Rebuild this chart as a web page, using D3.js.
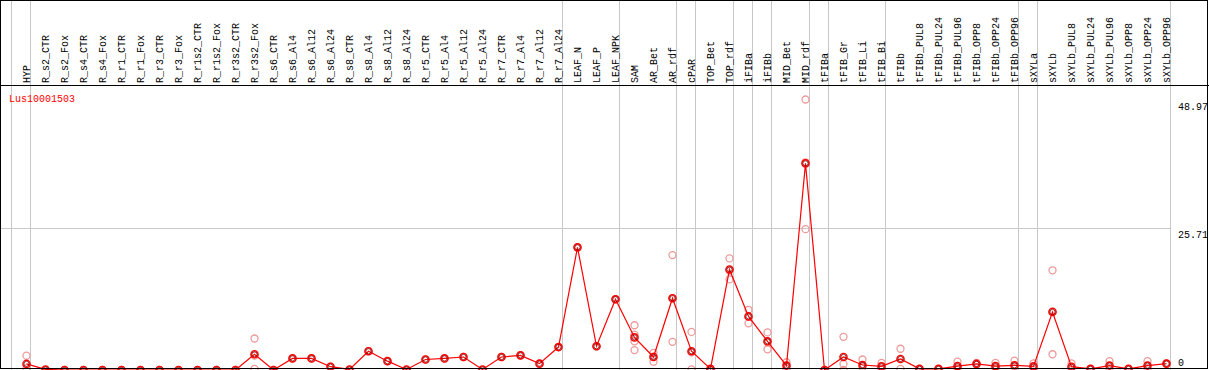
<!DOCTYPE html>
<html>
<head>
  <meta charset="utf-8">
  <title>Lus10001503</title>
  <script src="https://d3js.org/d3.v7.min.js"></script>
  <style>
    body { margin: 0; background: #fff; }
    svg text { font-family: "Liberation Mono", "DejaVu Sans Mono", monospace; font-size: 10px; }
    .grid { stroke: #c8c8c8; stroke-width: 1; shape-rendering: crispEdges; }
    .frame { fill: none; stroke: #000; stroke-width: 1; shape-rendering: crispEdges; }
  </style>
</head>
<body>
<div id="chart"></div>
<script>

// sample names, left to right
let categories = ["HYP",
  "R_s2_CTR","R_s2_Fox","R_s4_CTR","R_s4_Fox","R_r1_CTR","R_r1_Fox","R_r3_CTR","R_r3_Fox",
  "R_r1s2_CTR","R_r1s2_Fox","R_r3s2_CTR","R_r3s2_Fox","R_s6_CTR","R_s6_Al4","R_s6_Al12","R_s6_Al24",
  "R_s8_CTR","R_s8_Al4","R_s8_Al12","R_s8_Al24","R_r5_CTR","R_r5_Al4","R_r5_Al12","R_r5_Al24",
  "R_r7_CTR","R_r7_Al4","R_r7_Al12","R_r7_Al24",
  "LEAF_N","LEAF_P","LEAF_NPK","SAM","AR_Bet","AR_rdf","cPAR","TOP_Bet","TOP_rdf",
  "iFIBa","iFIBb","MID_Bet","MID_rdf","tFIBa","tFIB_Gr","tFIB_Li","tFIB_Bi","tFIBb",
  "tFIBb_PUL8","tFIBb_PUL24","tFIBb_PUL96","tFIBb_OPP8","tFIBb_OPP24","tFIBb_OPP96",
  "sXYLa","sXYLb","sXYLb_PUL8","sXYLb_PUL24","sXYLb_PUL96","sXYLb_OPP8","sXYLb_OPP24","sXYLb_OPP96"];

// first sample of each tissue group (a grey line is drawn before it)
let groupStarts = ["HYP","R_s2_CTR","LEAF_N","SAM","cPAR","TOP_Bet","iFIBa","iFIBb",
  "MID_Bet","tFIBa","tFIB_Gr","tFIBb","sXYLa","sXYLb"];

// mean expression (red line)
let means = [1.1,
  0.1,0,0,0,0,0,0,0,
  0,0,0,2.85,0,2.1,2.1,0.6,
  0.1,3.4,1.6,0.1,1.9,2.1,2.35,0.1,
  2.35,2.65,1.15,4.15,
  22.2,4.3,12.8,5.9,2.35,13.0,3.4,0.2,18.2,
  9.7,5.2,0.8,37.4,0,2.35,0.9,0.65,2.0,
  0.2,0.2,0.7,1.1,0.7,0.85,
  0.65,10.5,0.6,0.2,0.8,0.2,0.8,1.15];

// individual replicates (pale circles)
let replicates = [[2.6,0.3],
  [0],[0],[0],[0],[0],[0],[0],[0],
  [0],[0],[0],[5.7,2.6,0.2],[0],[2.1],[2.1],[0.6],
  [0],[3.4],[1.6],[0],[1.9],[2.1],[2.35],[0],
  [2.35],[2.65],[1.15],[4.15],
  [22.2],[4.3],[12.8],[8.1,6.4,5.2,3.6],[3.1,2.4,1.5],[20.8,13.0,5.1],[6.9,3.2,0.1],[0.2],[20.2,18.0,16.4],
  [10.9,9.7,8.45],[6.8,5.0,3.75],[1.4,0.8,0.2],[48.97,37.6,25.5],[0],[6.0,0,1.1],[1.9,0.5],[1.3,0.2],[3.85,0.2],
  [0.2],[0.2],[1.5,0.3],[1.3,1.0],[1.3,0.4],[1.7,0.6],
  [1.2,0.4],[18.05,10.6,2.85],[1.2,0.3],[0.2],[1.6,0.3],[0.2],[1.6,0.3],[1.2,1.1]];

let yTicks = [0, 25.71, 48.97];
let geneName = "Lus10001503";

let width = 1209,
    height = 370;

let x = d3.scaleBand()
    .domain(categories)
    .range([11, 11 + categories.length * 19])
    .padding(0);

let px = function(c) { return x(c) + 15.5; };

let y = d3.scaleLinear()
    .domain([0, 48.97])
    .range([370, 99.5]);

let svg = d3.select("#chart").append("svg")
    .attr("width", width)
    .attr("height", height);

// group separators
svg.append("g")
  .selectAll("line")
    .data(groupStarts.map(function(c) { return x(c); }).concat([x.range()[1]]))
  .enter().append("line")
    .attr("class", "grid")
    .attr("x1", function(d) { return Math.round(d) + 0.5; })
    .attr("x2", function(d) { return Math.round(d) + 0.5; })
    .attr("y1", 0)
    .attr("y2", height);

// middle horizontal line
svg.append("line")
    .attr("class", "grid")
    .attr("x1", 0)
    .attr("x2", x.range()[1])
    .attr("y1", Math.round(y(yTicks[1])) + 0.5)
    .attr("y2", Math.round(y(yTicks[1])) + 0.5);

// sample labels, rotated
svg.append("g")
  .selectAll("text")
    .data(categories)
  .enter().append("text")
    .attr("transform", function(d) { return "translate(" + (px(d) + 3) + ",83) rotate(-90)"; })
    .attr("text-anchor", "start")
    .text(function(d) { return d; });

// header separator
svg.append("line")
    .attr("class", "frame")
    .attr("x1", 0).attr("x2", width)
    .attr("y1", 85.5).attr("y2", 85.5);

// y labels
svg.append("g")
  .selectAll("text")
    .data(yTicks)
  .enter().append("text")
    .attr("x", 1178)
    .attr("y", function(d) { return Math.min(y(d) + 10, 366); })
    .text(function(d) { return d; });

svg.append("text")
    .attr("x", 9)
    .attr("y", 102)
    .attr("fill", "red")
    .text(geneName);

let plot = svg.append("g");

// replicate circles
categories.forEach(function(c, i) {
  plot.selectAll(null)
      .data(replicates[i])
    .enter().append("circle")
      .attr("cx", px(c))
      .attr("cy", function(d) { return y(d); })
      .attr("r", 3.5)
      .attr("fill", "none")
      .attr("stroke", "#ee9a9a")
      .attr("stroke-width", 1.3);
});

let line = d3.line()
    .x(function(d, i) { return px(categories[i]); })
    .y(function(d) { return y(d); });

plot.append("path")
    .datum(means)
    .attr("fill", "none")
    .attr("stroke", "red")
    .attr("stroke-width", 1.2)
    .attr("d", line);

plot.selectAll(".mean")
    .data(means)
  .enter().append("circle")
    .attr("class", "mean")
    .attr("cx", function(d, i) { return px(categories[i]); })
    .attr("cy", function(d) { return y(d); })
    .attr("r", 3.6)
    .attr("fill", "none")
    .attr("stroke", "red")
    .attr("stroke-width", 1.4);

plot.selectAll(".meanIn")
    .data(means)
  .enter().append("circle")
    .attr("class", "meanIn")
    .attr("cx", function(d, i) { return px(categories[i]); })
    .attr("cy", function(d) { return y(d); })
    .attr("r", 2.6)
    .attr("fill", "none")
    .attr("stroke", "#700")
    .attr("stroke-width", 0.8);

// outer frame
svg.append("rect")
    .attr("class", "frame")
    .attr("x", 0.5).attr("y", 0.5)
    .attr("width", 1207).attr("height", 368);

</script>
</body>
</html>
